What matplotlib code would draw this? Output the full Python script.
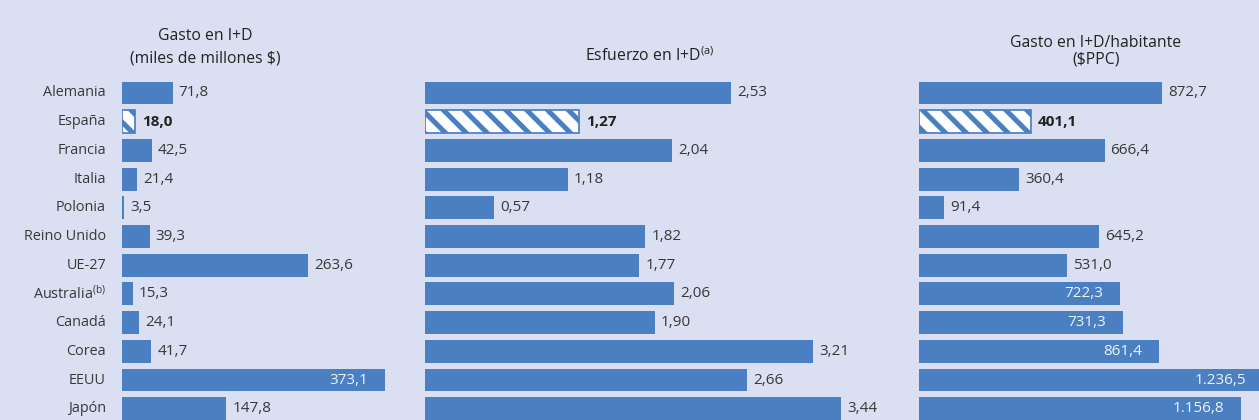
import matplotlib
matplotlib.use("Agg")
import matplotlib.pyplot as plt

countries = ["Alemania", "España", "Francia", "Italia", "Polonia", "Reino Unido",
             "UE-27", "Australia$^{\\mathregular{(b)}}$", "Canadá", "Corea", "EEUU", "Japón"]
gasto = [71.8, 18.0, 42.5, 21.4, 3.5, 39.3, 263.6, 15.3, 24.1, 41.7, 373.1, 147.8]
gasto_lbl = ["71,8", "18,0", "42,5", "21,4", "3,5", "39,3", "263,6", "15,3", "24,1", "41,7", "373,1", "147,8"]
esfuerzo = [2.53, 1.27, 2.04, 1.18, 0.57, 1.82, 1.77, 2.06, 1.90, 3.21, 2.66, 3.44]
esfuerzo_lbl = ["2,53", "1,27", "2,04", "1,18", "0,57", "1,82", "1,77", "2,06", "1,90", "3,21", "2,66", "3,44"]
hab = [872.7, 401.1, 666.4, 360.4, 91.4, 645.2, 531.0, 722.3, 731.3, 861.4, 1236.5, 1156.8]
hab_lbl = ["872,7", "401,1", "666,4", "360,4", "91,4", "645,2", "531,0", "722,3", "731,3", "861,4", "1.236,5", "1.156,8"]
titles = ["Gasto en I+D\n(miles de millones $)",
          "Esfuerzo en I+D$^{\\mathregular{(a)}}$",
          "Gasto en I+D/habitante\n($PPC)"]
highlight = "España"
inside_gasto = ["EEUU"]
inside_hab = ["Australia", "Canadá", "Corea", "EEUU", "Japón"]

BG = "#dae0f2"
BLUE = "#4a80c2"
TXT = "#383838"
W, H = 1259, 420
DPI = 125

plt.rcParams['font.family'] = ['Open Sans', 'DejaVu Sans']
plt.rcParams['hatch.linewidth'] = 2.9
plt.rcParams['hatch.color'] = BLUE

fig = plt.figure(figsize=(W / DPI, H / DPI), dpi=DPI, facecolor=BG)

row0 = 93.0
step = 28.7
top_px = row0 - step / 2
ylim_bottom = (H - row0) / step

VAL_FS = 8.8
LAB_FS = 8.3
TIT_FS = 9.1

def add_ax(x0, x1, px_per_unit):
    ax = fig.add_axes([x0 / W, 0, (x1 - x0) / W, (H - top_px) / H])
    ax.set_facecolor("none")
    ax.set_xlim(0, (x1 - x0) / px_per_unit)
    ax.set_ylim(ylim_bottom, -0.5)
    ax.axis("off")
    return ax

panels = [
    (122, 420, 0.7055, gasto, gasto_lbl, inside_gasto),
    (425, 915, 121.0, esfuerzo, esfuerzo_lbl, []),
    (919, 1259, 0.2785, hab, hab_lbl, inside_hab),
]

clean = [c.split("$")[0] for c in countries]

for (x0, x1, ppu, vals, lbls, inside) in panels:
    ax = add_ax(x0, x1, ppu)
    for i, (c, v, l) in enumerate(zip(clean, vals, lbls)):
        if c == highlight:
            ax.barh(i, v, height=0.8, color="white", edgecolor=BLUE, hatch="\\\\", linewidth=1.0)
            ax.text(v + 7 / ppu, i, l, ha="left", va="center", fontsize=VAL_FS,
                    fontweight="bold", color="#222222")
        else:
            ax.barh(i, v, height=0.8, color=BLUE, linewidth=0)
            if c in inside:
                ax.text(v - 17 / ppu, i, l, ha="right", va="center", fontsize=VAL_FS,
                        color="#eef1fa")
            else:
                ax.text(v + 6 / ppu, i, l, ha="left", va="center", fontsize=VAL_FS,
                        color=TXT)

# country labels
for i, c in enumerate(countries):
    ypx = row0 + step * i
    fig.text(106 / W, 1 - ypx / H, c, ha="right", va="center", fontsize=LAB_FS, color=TXT)

# titles
fig.text(205 / W, 1 - 47.5 / H, titles[0], ha="center", va="center", fontsize=TIT_FS,
         color="#222222", linespacing=1.55)
fig.text(650 / W, 1 - 56 / H, titles[1], ha="center", va="center", fontsize=TIT_FS,
         color="#222222")
fig.text(1096 / W, 1 - 51.5 / H, titles[2], ha="center", va="center", fontsize=TIT_FS,
         color="#222222", linespacing=1.05)

fig.savefig("out.png", dpi=DPI, facecolor=BG)
